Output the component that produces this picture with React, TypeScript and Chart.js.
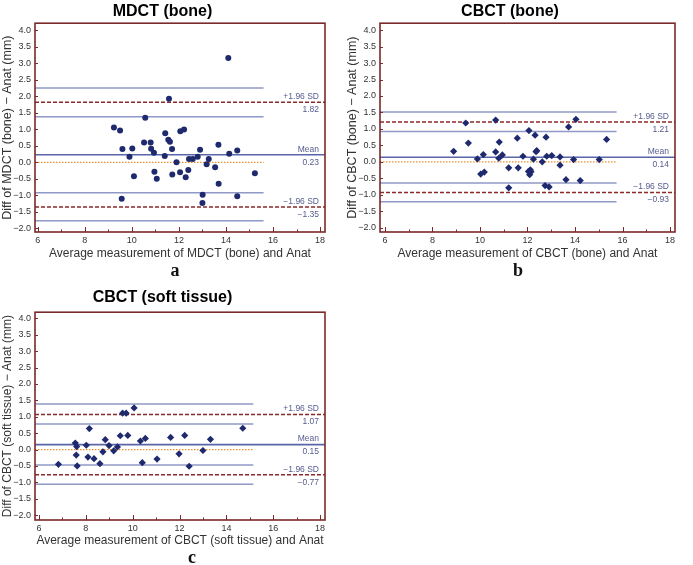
import React, { useEffect, useRef } from 'react';
import { Chart, registerables } from 'chart.js';
Chart.register(...registerables);

// ---------- DATA ----------
const panelTitles = ['MDCT (bone)', 'CBCT (bone)', 'CBCT (soft tissue)'];
const yAxisTitles = [
  'Diff of MDCT (bone) \u2212 Anat (mm)',
  'Diff of CBCT (bone) \u2212 Anat (mm)',
  'Diff of CBCT (soft tissue) \u2212 Anat (mm)',
];
const xAxisTitles = [
  'Average measurement of MDCT (bone) and Anat',
  'Average measurement of CBCT (bone) and Anat',
  'Average measurement of CBCT (soft tissue) and Anat',
];
const panelLetters = ['a', 'b', 'c'];

const mdctBoneAvg = [9.24, 9.5, 9.6, 9.57, 9.9, 10.02, 10.09, 10.52, 10.57, 10.8, 10.82, 10.94, 10.96, 11.06, 11.4, 11.42, 11.55, 11.58, 11.62, 11.71, 11.72, 11.9, 12.05, 12.06, 12.22, 12.29, 12.4, 12.43, 12.59, 12.8, 12.9, 13.0, 13.01, 13.18, 13.27, 13.54, 13.68, 13.69, 14.1, 14.14, 14.48, 14.48, 15.23];
const mdctBoneDiff = [1.05, 0.96, 0.4, -1.1, 0.17, 0.42, -0.42, 0.6, 1.35, 0.6, 0.41, 0.29, -0.29, -0.5, 0.19, 0.88, 0.68, 1.92, 0.62, 0.4, -0.37, 0.0, -0.3, 0.94, 0.99, -0.45, -0.23, 0.1, 0.1, 0.17, 0.38, -1.23, -0.98, -0.06, 0.1, -0.15, 0.53, -0.65, 3.16, 0.26, 0.36, -1.03, -0.33];

const cbctBoneAvg = [8.89, 9.4, 9.51, 9.89, 10.03, 10.14, 10.18, 10.66, 10.66, 10.79, 10.81, 10.94, 11.21, 11.21, 11.57, 11.61, 11.81, 12.04, 12.06, 12.09, 12.12, 12.15, 12.25, 12.32, 12.36, 12.39, 12.62, 12.74, 12.78, 12.81, 12.91, 13.02, 13.37, 13.37, 13.62, 13.73, 13.94, 14.04, 14.22, 15.02, 15.33];
const cbctBoneDiff = [0.32, 1.18, 0.57, 0.09, -0.37, 0.22, -0.31, 0.3, 1.27, 0.11, 0.6, 0.21, -0.18, -0.79, 0.72, -0.18, 0.17, -0.29, 0.95, -0.39, -0.24, -0.3, 0.08, 0.81, 0.31, 0.34, 0.0, -0.72, 0.75, 0.17, -0.76, 0.19, 0.15, -0.1, -0.54, 1.06, 0.07, 1.29, -0.57, 0.07, 0.68];

const cbctSoftAvg = [6.83, 7.55, 7.59, 7.61, 7.63, 8.02, 8.09, 8.15, 8.35, 8.6, 8.73, 8.83, 8.99, 9.19, 9.35, 9.47, 9.57, 9.72, 9.79, 10.06, 10.33, 10.41, 10.54, 11.04, 11.62, 11.98, 12.22, 12.41, 13.0, 13.32, 14.7];
const cbctSoftDiff = [-0.45, 0.2, -0.17, 0.09, -0.5, 0.13, -0.23, 0.64, -0.28, -0.43, -0.07, 0.3, 0.12, -0.04, 0.08, 0.42, 1.11, 1.11, 0.43, 1.27, 0.26, -0.4, 0.34, -0.29, 0.37, -0.13, 0.43, -0.51, -0.03, 0.31, 0.65];

const meanDiff = [0.23, 0.14, 0.15];
const upperLoA = [1.82, 1.21, 1.07];
const lowerLoA = [-1.35, -0.93, -0.77];
const upperLoAHigh = [2.25, 1.51, 1.39];
const upperLoALow = [1.38, 0.92, 0.78];
const lowerLoAHigh = [-0.92, -0.64, -0.47];
const lowerLoALow = [-1.77, -1.21, -1.06];
const ciLineEndX = [15.6, 15.75, 15.15];

const xMin = [5.885, 5.79, 5.83];
const xMax = [18.21, 18.21, 18.21];
const yMin = [-2.11, -2.13, -2.15];
const yMax = [4.21, 4.21, 4.19];

const pointStyles = ['circle', 'rectRot', 'rectRot'];
const avgSeries = [mdctBoneAvg, cbctBoneAvg, cbctSoftAvg];
const diffSeries = [mdctBoneDiff, cbctBoneDiff, cbctSoftDiff];

// ---------- STYLE ----------
const FRAME = '#7a2a2a';
const DASH = '#8c2a2a';
const CI_BLUE = '#8f98c6';
const MEAN_BLUE = '#5a66a8';
const ZERO_ORANGE = '#e8902e';
const POINT = '#1f2a6e';
const LABEL = '#565c8e';
const FONT = '"Liberation Sans", Arial, sans-serif';

const geom = [
  { left: 0, top: 0, w: 345, h: 280, titlePad: { top: 2, bottom: 2 }, xScaleH: 48, xTitlePadB: 19, letterX: 175, letterY: 270 },
  { left: 345, top: 0, w: 348, h: 280, titlePad: { top: 2, bottom: 2 }, xScaleH: 48, xTitlePadB: 19, letterX: 173, letterY: 270 },
  { left: 0, top: 280, w: 345, h: 285, titlePad: { top: 8, bottom: 5 }, xScaleH: 45, xTitlePadB: 17, letterX: 192, letterY: 277 },
];
const rightPad = [20, 18, 20];
const yTitleSize = [12.5, 12.5, 12];

const fmtY = (v: number) => (v < 0 ? '\u2212' : '') + Math.abs(v).toFixed(1);
const fmtV = (v: number) => (v < 0 ? '\u2212' : '') + Math.abs(v).toFixed(2);

function makeOverlay(i: number) {
  return {
    id: 'baOverlay' + i,
    afterDatasetsDraw(chart: any) {
      const { ctx, chartArea, scales } = chart;
      const xs = scales.x, ys = scales.y;
      ctx.save();
      ctx.fillStyle = LABEL;
      ctx.font = '8.5px ' + FONT;
      ctx.textAlign = 'right';
      ctx.textBaseline = 'middle';
      const rx = chartArea.right - 6;
      const items: [number, string, string][] = [
        [upperLoA[i], '+1.96 SD', fmtV(upperLoA[i])],
        [meanDiff[i], 'Mean', fmtV(meanDiff[i])],
        [lowerLoA[i], '\u22121.96 SD', fmtV(lowerLoA[i])],
      ];
      for (const [v, a, b] of items) {
        const py = ys.getPixelForValue(v);
        ctx.fillText(a, rx, py - 5.5);
        ctx.fillText(b, rx, py + 7.5);
      }
      ctx.strokeStyle = FRAME;
      ctx.lineWidth = 1.6;
      ctx.strokeRect(chartArea.left, chartArea.top, chartArea.right - chartArea.left, chartArea.bottom - chartArea.top);
      ctx.lineWidth = 1;
      for (let t = 6; t <= 18; t++) {
        const px = Math.round(xs.getPixelForValue(t)) + 0.5;
        const len = t % 2 === 0 ? 5 : 2.5;
        ctx.beginPath();
        ctx.moveTo(px, chartArea.bottom);
        ctx.lineTo(px, chartArea.bottom - len);
        ctx.stroke();
      }
      for (let t = -2; t <= 4.001; t += 0.5) {
        const py = Math.round(ys.getPixelForValue(t)) + 0.5;
        ctx.beginPath();
        ctx.moveTo(chartArea.left, py);
        ctx.lineTo(chartArea.left + 3, py);
        ctx.stroke();
      }
      ctx.restore();
    },
  };
}

function hline(y: number, x0: number, x1: number, color: string, width: number, dash: number[]) {
  return {
    data: [{ x: x0, y }, { x: x1, y }],
    showLine: true,
    borderColor: color,
    borderWidth: width,
    borderDash: dash,
    pointRadius: 0,
    fill: false,
  };
}

function Panel({ i }: { i: number }) {
  const ref = useRef<HTMLCanvasElement | null>(null);
  useEffect(() => {
    const g = geom[i];
    const pts = avgSeries[i].map((x, k) => ({ x, y: diffSeries[i][k] }));
    const x0 = xMin[i], x1 = xMax[i], xe = ciLineEndX[i];
    const chart = new Chart(ref.current as HTMLCanvasElement, {
      type: 'scatter',
      data: {
        datasets: [
          {
            data: pts,
            pointStyle: pointStyles[i] as any,
            pointRadius: i === 0 ? 3 : 3.6,
            backgroundColor: POINT,
            borderColor: POINT,
            borderWidth: 0,
          } as any,
          hline(meanDiff[i], x0, x1, MEAN_BLUE, 1.6, []),
          hline(upperLoA[i], x0, x1, DASH, 1.5, [4, 2]),
          hline(lowerLoA[i], x0, x1, DASH, 1.5, [4, 2]),
          hline(upperLoAHigh[i], x0, xe, CI_BLUE, 1.5, []),
          hline(upperLoALow[i], x0, xe, CI_BLUE, 1.5, []),
          hline(lowerLoAHigh[i], x0, xe, CI_BLUE, 1.5, []),
          hline(lowerLoALow[i], x0, xe, CI_BLUE, 1.5, []),
          hline(0, x0, xe, ZERO_ORANGE, 1.2, [1.5, 1.5]),
        ],
      },
      options: {
        responsive: false,
        animation: false,
        layout: { padding: { left: 0, right: rightPad[i], top: 0, bottom: 0 } },
        plugins: {
          legend: { display: false },
          tooltip: { enabled: false },
          title: {
            display: true,
            text: panelTitles[i],
            color: '#000',
            font: { family: FONT, size: 16, weight: 'bold' },
            padding: g.titlePad,
          },
        },
        scales: {
          x: {
            type: 'linear',
            min: x0,
            max: x1,
            grid: { display: false, drawTicks: false },
            border: { display: false },
            ticks: {
              stepSize: 2,
              includeBounds: false,
              padding: 3,
              color: '#333',
              font: { family: FONT, size: 9 },
              callback: (v: any) => String(Math.round(Number(v))),
            },
            title: {
              display: true,
              text: xAxisTitles[i],
              color: '#333',
              font: { family: FONT, size: 12 },
              padding: { top: 0, bottom: g.xTitlePadB },
            },
            afterFit: (s: any) => { s.height = g.xScaleH; },
          },
          y: {
            type: 'linear',
            min: yMin[i],
            max: yMax[i],
            grid: { display: false, drawTicks: false },
            border: { display: false },
            ticks: {
              stepSize: 0.5,
              includeBounds: false,
              padding: 4,
              color: '#333',
              font: { family: FONT, size: 9 },
              callback: (v: any) => fmtY(Number(v)),
            },
            title: {
              display: true,
              text: yAxisTitles[i],
              color: '#333',
              font: { family: FONT, size: yTitleSize[i] },
              padding: { top: 0, bottom: 0 },
            },
            afterFit: (s: any) => { s.width = 35; },
          },
        },
      } as any,
      plugins: [makeOverlay(i)],
    });
    return () => chart.destroy();
  }, [i]);
  const g = geom[i];
  return (
    <div style={{ position: 'absolute', left: g.left, top: g.top, width: g.w, height: g.h }}>
      <canvas ref={ref} width={g.w} height={g.h} style={{ width: g.w, height: g.h, display: 'block' }} />
      <div
        style={{
          position: 'absolute',
          left: g.letterX - 20,
          width: 40,
          top: g.letterY - 11,
          textAlign: 'center',
          fontFamily: '"Liberation Serif", "Times New Roman", serif',
          fontWeight: 'bold',
          fontSize: 18,
          lineHeight: '22px',
          color: '#111',
        }}
      >
        {panelLetters[i]}
      </div>
    </div>
  );
}

export default function App() {
  return (
    <div style={{ position: 'absolute', left: 0, top: 0, width: 693, height: 565, background: '#fff', overflow: 'hidden' }}>
      <Panel i={0} />
      <Panel i={1} />
      <Panel i={2} />
    </div>
  );
}
